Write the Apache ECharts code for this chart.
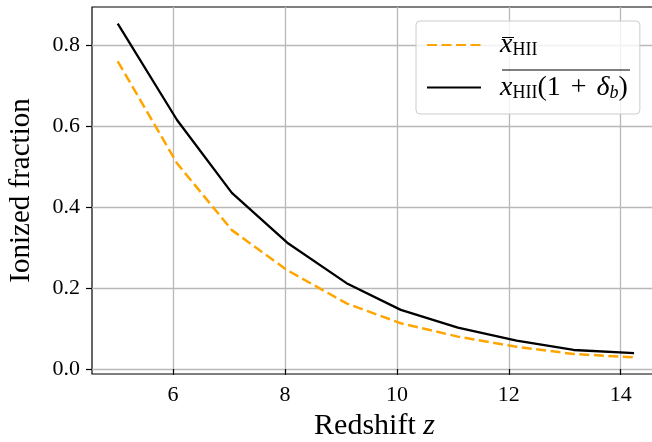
<!DOCTYPE html>
<html>
<head>
<meta charset="utf-8">
<script src="https://cdn.jsdelivr.net/npm/echarts@6/dist/echarts.min.js"></script>
<style>
    html, body { margin: 0; padding: 0; background: #fff; }
    #chart { width: 652px; height: 442px; }
</style>
</head>
<body>
<div id="chart"></div>
<script>
// redshift samples (x)
const redshift = [5.01, 6.07, 7.05, 8.04, 9.10, 10.07, 11.09, 12.14, 13.16, 14.24]
// mean ionized fraction (dashed orange)
const xMean = [0.760, 0.508, 0.343, 0.244, 0.162, 0.113, 0.080, 0.055, 0.037, 0.029]
// density weighted ionized fraction (solid black)
const xWeighted = [0.853, 0.615, 0.435, 0.312, 0.212, 0.146, 0.102, 0.070, 0.047, 0.039]
const xTicks = [6, 8, 10, 12, 14]
const yTicks = [0, 0.2, 0.4, 0.6, 0.8]

const FONT = 'Liberation Serif'

function pairs (xs, ys) {
    let out = []
    for (let i = 0; i < xs.length; i++) {
        out.push([xs[i], ys[i]])
    }
    return out
}

const chart = echarts.init(document.getElementById('chart'), null, {renderer: 'canvas'})

const axisCommon = {
    axisLine: { show: false },
    axisTick: { show: true, inside: false, length: 6, lineStyle: { color: '#000', width: 1.2 } },
    splitLine: { show: true, lineStyle: { color: '#b8b8b8', width: 1.3 } }
}

// legend labels, written like the LaTeX ones
const richLegend = {
    sp: { width: 14, fontSize: 20, fontFamily: FONT },
    it: { fontFamily: FONT, fontStyle: 'italic', fontSize: 28, color: '#000' },
    n: { fontFamily: FONT, fontSize: 28, color: '#000' },
    op: { fontFamily: FONT, fontSize: 28, color: '#000', padding: [0, 10, 0, 10] },
    sub: { fontFamily: FONT, fontSize: 18, color: '#000', padding: [11, 0, 0, 0] },
    subit: { fontFamily: FONT, fontStyle: 'italic', fontSize: 18, color: '#000', padding: [11, 0, 0, 0] }
}

const option = {
    animation: false,
    grid: {
        left: 92,
        top: 7,
        right: -5,
        bottom: 68,
        show: true,
        borderColor: '#000',
        borderWidth: 1.2,
        containLabel: false,
        outerBoundsMode: 'none'
    },
    xAxis: Object.assign({}, axisCommon, {
        type: 'value',
        min: 4.55,
        max: 14.65,
        axisTick: Object.assign({}, axisCommon.axisTick, { customValues: xTicks }),
        axisLabel: {
            customValues: xTicks,
            margin: 10,
            fontFamily: FONT,
            fontSize: 22,
            color: '#000'
        },
        name: 'Redshift {z|z}',
        nameLocation: 'middle',
        nameGap: 26,
        nameTextStyle: {
            fontFamily: FONT,
            fontSize: 30,
            color: '#000',
            rich: { z: { fontFamily: FONT, fontStyle: 'italic', fontSize: 30, color: '#000' } }
        }
    }),
    yAxis: Object.assign({}, axisCommon, {
        type: 'value',
        min: -0.0123,
        max: 0.894,
        axisTick: Object.assign({}, axisCommon.axisTick, { customValues: yTicks }),
        axisLabel: {
            customValues: yTicks,
            margin: 12,
            fontFamily: FONT,
            fontSize: 22,
            color: '#000',
            formatter: function (v) { return v.toFixed(1) }
        },
        name: 'Ionized fraction',
        nameLocation: 'middle',
        nameGap: 56,
        nameTextStyle: {
            fontFamily: FONT,
            fontSize: 29,
            color: '#000'
        }
    }),
    legend: {
        orient: 'vertical',
        left: 416,
        top: 21,
        padding: [10, 12, 12, 10],
        itemWidth: 54,
        itemHeight: 24,
        itemGap: 14,
        backgroundColor: 'rgba(255,255,255,0.8)',
        borderColor: '#cccccc',
        borderWidth: 1,
        borderRadius: 4,
        itemStyle: { opacity: 0 },
        data: ['mean', 'weighted'],
        formatter: function (name) {
            if (name === 'mean') {
                return '{sp| }{it|x}{sub|HII}'
            }
            return '{sp| }{it|x}{sub|HII}{n|(1}{op|+}{it|δ}{subit|b}{n|)}'
        },
        textStyle: { rich: richLegend }
    },
    graphic: [
        // overlines of the legend labels
        { type: 'line', shape: { x1: 502, y1: 37.5, x2: 514, y2: 37.5 }, style: { stroke: '#000', lineWidth: 1 }, z: 100 },
        { type: 'line', shape: { x1: 502, y1: 70, x2: 630, y2: 70 }, style: { stroke: '#000', lineWidth: 1 }, z: 100 }
    ],
    series: [
        {
            name: 'mean',
            type: 'line',
            data: pairs(redshift, xMean),
            showSymbol: false,
            symbol: 'none',
            smooth: false,
            lineStyle: { color: '#FFA500', width: 2.5, type: [10, 4.5] },
            itemStyle: { color: '#FFA500' },
            z: 3
        },
        {
            name: 'weighted',
            type: 'line',
            data: pairs(redshift, xWeighted),
            showSymbol: false,
            symbol: 'none',
            smooth: false,
            lineStyle: { color: '#000', width: 2.3, type: 'solid' },
            itemStyle: { color: '#000' },
            z: 4
        }
    ]
}

chart.setOption(option)
</script>
</body>
</html>
